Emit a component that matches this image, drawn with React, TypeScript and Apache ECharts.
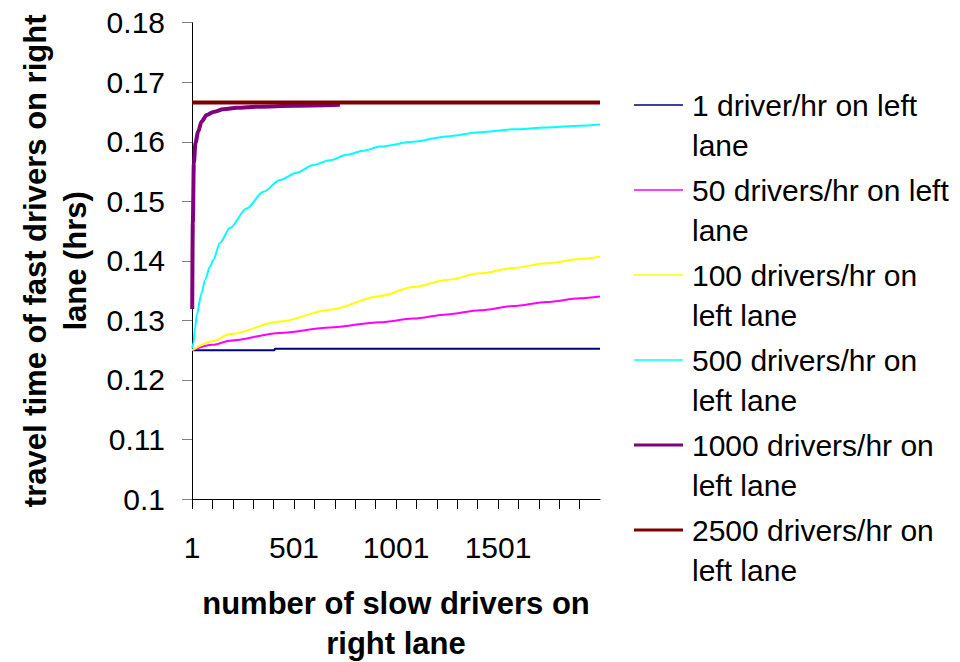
import React, { useEffect, useRef } from "react";
import * as echarts from "echarts";

// ---- data ----
const seriesNames = [
  "1 driver/hr on left lane",
  "50 drivers/hr on left lane",
  "100 drivers/hr on left lane",
  "500 drivers/hr on left lane",
  "1000 drivers/hr on left lane",
  "2500 drivers/hr on left lane",
];
const legendLabels = [
  "1 driver/hr on left\nlane",
  "50 drivers/hr on left\nlane",
  "100 drivers/hr on\nleft lane",
  "500 drivers/hr on\nleft lane",
  "1000 drivers/hr on\nleft lane",
  "2500 drivers/hr on\nleft lane",
];
const seriesColors = ["#000080", "#FF00FF", "#FFFF00", "#00FFFF", "#800080", "#800000"];

const x1 = [1, 405, 406, 2000];
const y1 = [0.125, 0.125, 0.12525, 0.12525];

const x50 = [1, 103, 186, 431, 676, 922, 1085, 1249, 1412, 1575, 1739, 1902, 2000];
const y50 = [0.125, 0.1259, 0.1266, 0.1279, 0.1288, 0.1297, 0.1303, 0.131, 0.1317, 0.1324, 0.1331, 0.1337, 0.134];

const x100 = [1, 103, 186, 431, 676, 922, 1085, 1249, 1412, 1575, 1739, 1902, 2000];
const y100 = [0.125, 0.1265, 0.1277, 0.1298, 0.1318, 0.1341, 0.1356, 0.1368, 0.1379, 0.1388, 0.1396, 0.1403, 0.1407];

const x500 = [1, 7, 15, 23, 47, 64, 88, 105, 137, 186, 268, 350, 431, 513, 595, 676, 758, 840, 922, 1085, 1249, 1412, 1575, 1739, 1902, 2000];
const y500 = [0.1253, 0.1262, 0.1287, 0.1309, 0.1346, 0.1368, 0.139, 0.1402, 0.143, 0.1455, 0.1488, 0.1516, 0.1536, 0.1548, 0.1561, 0.1569, 0.1578, 0.1585, 0.1592, 0.16, 0.1609, 0.1616, 0.1621, 0.1624, 0.1627, 0.1629];

const x1000 = [1, 4, 9, 17, 30, 47, 72, 105, 154, 219, 325, 500, 725];
const y1000 = [0.1319, 0.1463, 0.1564, 0.1598, 0.1617, 0.1634, 0.1645, 0.165, 0.16545, 0.1657, 0.1659, 0.16605, 0.1662];

const x2500 = [1, 2000];
const y2500 = [0.1666, 0.1666];

const xSets = [x1, x50, x100, x500, x1000, x2500];
const ySets = [y1, y50, y100, y500, y1000, y2500];
const lineWidths = [2, 2, 2, 2, 4, 4];
const legendWidths = [1.5, 1.5, 1.5, 1.5, 3, 3];

const FONT = "'Liberation Sans', Arial, sans-serif";

export default function App() {
  const ref = useRef<HTMLDivElement>(null);
  useEffect(() => {
    if (!ref.current) return;
    const chart = echarts.init(ref.current, undefined, { renderer: "svg" });
    const series = seriesNames.map((name, i) => ({
      name,
      type: "line",
      data: xSets[i].map((x, j) => [x, ySets[i][j]]),
      symbol: "none",
      showSymbol: false,
      smooth: i === 0 || i === 5 ? false : 0.3,
      smoothMonotone: "x",
      lineStyle: { color: seriesColors[i], width: lineWidths[i] },
      itemStyle: { color: seriesColors[i] },
      z: 2 + i,
    }));
    chart.setOption({
      animation: false,
      backgroundColor: "#ffffff",
      textStyle: { fontFamily: FONT },
      grid: { left: 192, right: 360, top: 22.7, bottom: 163, containLabel: false, outerBoundsMode: "none" },
      xAxis: {
        type: "value",
        min: 0,
        max: 2000,
        interval: 100,
        name: "number of slow drivers on\nright lane",
        nameLocation: "middle",
        nameGap: 84,
        nameTextStyle: { fontFamily: FONT, fontSize: 31, fontWeight: "bold", color: "#000", lineHeight: 40 },
        axisLine: { lineStyle: { color: "#000", width: 1 } },
        axisTick: { show: true, length: 10, lineStyle: { color: "#000" } },
        axisLabel: {
          fontFamily: FONT,
          fontSize: 30,
          color: "#000",
          margin: 33,
          showMaxLabel: false,
          formatter: (v: number) => (v % 500 === 0 && v < 2000 ? String(v + 1) : ""),
        },
        splitLine: { show: false },
      },
      yAxis: {
        type: "value",
        min: 0.1,
        max: 0.18,
        interval: 0.01,
        name: "travel time of fast drivers on right\nlane (hrs)",
        nameLocation: "middle",
        nameGap: 97,
        nameTextStyle: { fontFamily: FONT, fontSize: 31, fontWeight: "bold", color: "#000", lineHeight: 40 },
        axisLine: { show: true, lineStyle: { color: "#000", width: 1 } },
        axisTick: { show: true, length: 10, lineStyle: { color: "#808080" } },
        axisLabel: {
          fontFamily: FONT,
          fontSize: 30,
          color: "#000",
          margin: 27,
          formatter: (v: number) => String(+v.toFixed(2)),
        },
        splitLine: { show: false },
      },
      legend: {
        orient: "vertical",
        left: 634,
        top: 45,
        padding: 0,
        itemGap: -35,
        itemWidth: 49,
        itemHeight: 10,
        data: seriesNames.map((name, i) => ({
          name,
          icon: `path://M0,0L49,0L49,${legendWidths[i]}L0,${legendWidths[i]}Z`,
          itemStyle: { color: seriesColors[i] },
        })),
        formatter: (name: string) => "\n" + legendLabels[seriesNames.indexOf(name)],
        textStyle: { fontFamily: FONT, fontSize: 30, color: "#000", lineHeight: 40, padding: [0, 0, 0, 4] },
      },
      series,
    });
    return () => chart.dispose();
  }, []);
  return (
    <div
      ref={ref}
      style={{ position: "absolute", left: 0, top: 0, width: 960, height: 662, background: "#fff" }}
    />
  );
}
